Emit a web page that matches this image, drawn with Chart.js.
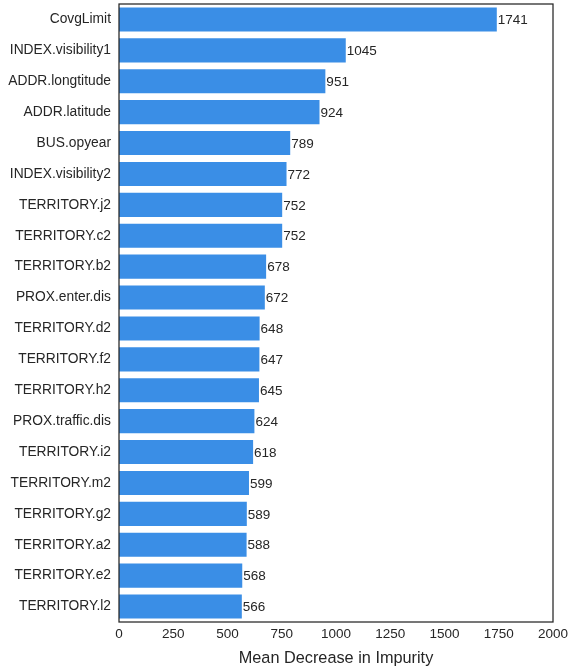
<!DOCTYPE html>
<html>
<head>
<meta charset="utf-8">
<script src="https://cdn.jsdelivr.net/npm/chart.js@4.4.1/dist/chart.umd.min.js"></script>
<style>
  html, body { margin: 0; padding: 0; background: #fff; }
  #wrap { width: 568px; height: 668px; }
</style>
</head>
<body>
<div id="wrap"><canvas id="chart"></canvas></div>
<script>
  const features = [
    "CovgLimit", "INDEX.visibility1", "ADDR.longtitude", "ADDR.latitude", "BUS.opyear",
    "INDEX.visibility2", "TERRITORY.j2", "TERRITORY.c2", "TERRITORY.b2", "PROX.enter.dis",
    "TERRITORY.d2", "TERRITORY.f2", "TERRITORY.h2", "PROX.traffic.dis", "TERRITORY.i2",
    "TERRITORY.m2", "TERRITORY.g2", "TERRITORY.a2", "TERRITORY.e2", "TERRITORY.l2"
  ];
  const importance = [1741, 1045, 951, 924, 789, 772, 752, 752, 678, 672, 648, 647, 645, 624, 618, 599, 589, 588, 568, 566];
  const xTicks = [0, 250, 500, 750, 1000, 1250, 1500, 1750, 2000];

  const ink = "#262626";
  const font = "'Liberation Sans', Arial, sans-serif";

  const valueLabels = {
    id: "valueLabels",
    afterDatasetsDraw(chart) {
      const ctx = chart.ctx;
      const meta = chart.getDatasetMeta(0);
      ctx.save();
      ctx.fillStyle = ink;
      ctx.font = `13.5px ${font}`;
      ctx.textAlign = "left";
      ctx.textBaseline = "middle";
      meta.data.forEach((bar, i) => {
        ctx.fillText(String(importance[i]), bar.x + 1, bar.y + 1);
      });
      ctx.restore();
    }
  };

  const frame = {
    id: "frame",
    afterDraw(chart) {
      const { left, top, right, bottom } = chart.chartArea;
      const ctx = chart.ctx;
      ctx.save();
      ctx.strokeStyle = ink;
      ctx.lineWidth = 1.25;
      ctx.strokeRect(left, top, right - left, bottom - top);
      ctx.restore();
    }
  };

  new Chart(document.getElementById("chart"), {
    type: "bar",
    data: {
      labels: features,
      datasets: [{
        data: importance,
        backgroundColor: "#3a8ee6",
        borderWidth: 0,
        barPercentage: 0.78,
        categoryPercentage: 1
      }]
    },
    options: {
      indexAxis: "y",
      responsive: true,
      maintainAspectRatio: false,
      animation: false,
      layout: { padding: { top: 4, right: 15, bottom: 0, left: 0 } },
      plugins: { legend: { display: false }, tooltip: { enabled: false } },
      scales: {
        x: {
          min: 0,
          max: 2000,
          afterBuildTicks(axis) { axis.ticks = xTicks.map((value) => ({ value })); },
          afterFit(axis) { axis.height = 46; axis.paddingLeft = 0; axis.paddingRight = 0; },
          grid: { display: false, drawTicks: false },
          border: { display: false },
          ticks: { color: ink, font: { family: font, size: 13.5 }, padding: 4, maxRotation: 0, callback: (v) => String(v) },
          title: { display: true, text: "Mean Decrease in Impurity", color: ink, font: { family: font, size: 16.3 }, padding: { top: 2, bottom: 0 } }
        },
        y: {
          afterFit(axis) { axis.width = 119; axis.paddingTop = 0; axis.paddingBottom = 0; },
          grid: { display: false, drawTicks: false },
          border: { display: false },
          ticks: { color: ink, font: { family: font, size: 13.8 }, padding: 8 }
        }
      }
    },
    plugins: [valueLabels, frame]
  });
</script>
</body>
</html>
